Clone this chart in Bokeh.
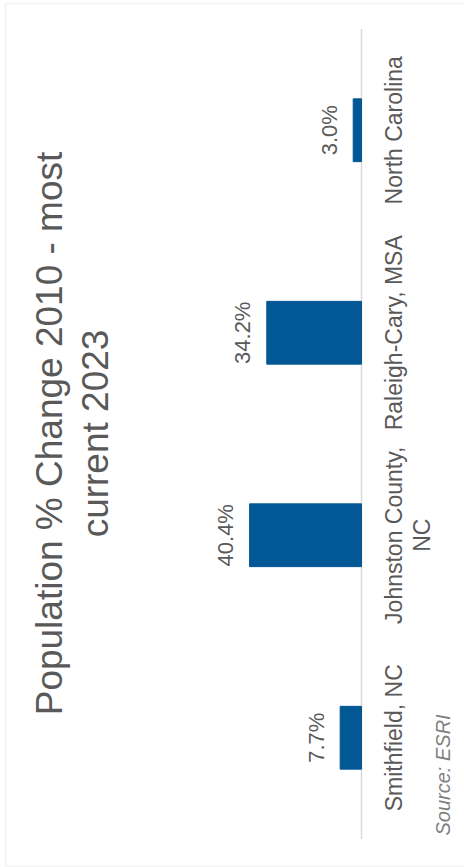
import math
from bokeh.plotting import figure
from bokeh.models import Range1d, FactorRange, ColumnDataSource, LabelSet, Label, BoxAnnotation
from bokeh.core.properties import value
from bokeh.embed import file_html
from bokeh.resources import INLINE

# ---- data ----
categories = ["Smithfield, NC", "Johnston County, NC", "Raleigh-Cary, MSA", "North Carolina"]
values = [7.7, 40.4, 34.2, 3.0]
value_labels = ["7.7%", "40.4%", "34.2%", "3.0%"]
# category tick labels as shown (wrapped lines)
label_cats = ["Smithfield, NC", "Johnston County, NC", "Johnston County, NC",
              "Raleigh-Cary, MSA", "North Carolina"]
label_texts = ["Smithfield, NC", "Johnston County,", "NC", "Raleigh-Cary, MSA", "North Carolina"]
label_line = [0, 0, 1, 0, 0]
title_lines = ["Population % Change 2010 - most", "current 2023"]
source_note = "Source: ESRI"

FONT = "Liberation Sans"
TEXT = "#595959"
BAR = "#025894"

W, H = 464, 867
AXIS_X = 361          # screen x of the zero baseline
PX_PER_UNIT = 2.77
CAT_FS = 23
CAT_LINE = 28

p = figure(
    width=W, height=H,
    output_backend="svg", toolbar_location=None,
    x_range=Range1d(start=AXIS_X / PX_PER_UNIT, end=-(W - AXIS_X) / PX_PER_UNIT),
    y_range=FactorRange(factors=categories, range_padding=0.0704),
    x_axis_location=None, y_axis_location=None,
    min_border=0, tools="",
)
p.title.visible = False
p.outline_line_color = None
p.grid.visible = False
p.background_fill_color = "white"
p.border_fill_color = "white"

# frame border of the original picture
p.add_layout(BoxAnnotation(left=5, right=W + 20, top=3, bottom=866,
                           left_units="canvas", right_units="canvas",
                           top_units="canvas", bottom_units="canvas",
                           fill_color=None, line_color="#D9D9D9", line_width=2))

src = ColumnDataSource(dict(cat=categories, val=values, lab=value_labels))

# category baseline (axis line)
p.segment(x0=[0], x1=[0], y0=[(categories[0], -0.5)], y1=[(categories[-1], 0.5)],
          line_color="#D9D9D9", line_width=1.5)

p.hbar(y="cat", left=0, right="val", height=0.31, source=src,
       fill_color=BAR, line_color=BAR)

# value labels
p.add_layout(LabelSet(x="val", y="cat", text="lab", source=src,
                      angle=math.pi / 2, text_align="center", text_baseline="middle",
                      x_offset=-24, text_font=value(FONT), text_font_size="22px",
                      text_color=TEXT))

# category labels
csrc = ColumnDataSource(dict(cat=label_cats, txt=label_texts,
                             zero=[0] * len(label_cats),
                             off=[20 + CAT_LINE * k for k in label_line]))
p.add_layout(LabelSet(x="zero", y="cat", text="txt", source=csrc,
                      angle=math.pi / 2, text_align="center", text_baseline="top",
                      x_offset="off", text_font=value(FONT),
                      text_font_size=f"{CAT_FS}px", text_color=TEXT))

title_y = H - 433
for txt, bx in zip(title_lines, [49, 95]):
    p.add_layout(Label(x=bx, y=title_y, x_units="screen", y_units="screen",
                       text=txt, angle=math.pi / 2, text_align="center",
                       text_baseline="middle", text_font=FONT,
                       text_font_size="37px", text_color=TEXT))

p.add_layout(Label(x=442, y=H - 835, x_units="screen", y_units="screen",
                   text=source_note, angle=math.pi / 2, text_align="left",
                   text_baseline="middle", text_font=FONT,
                   text_font_size="20px", text_font_style="italic",
                   text_color="#7F7F7F"))

open("out.html", "w").write(file_html(p, INLINE))
